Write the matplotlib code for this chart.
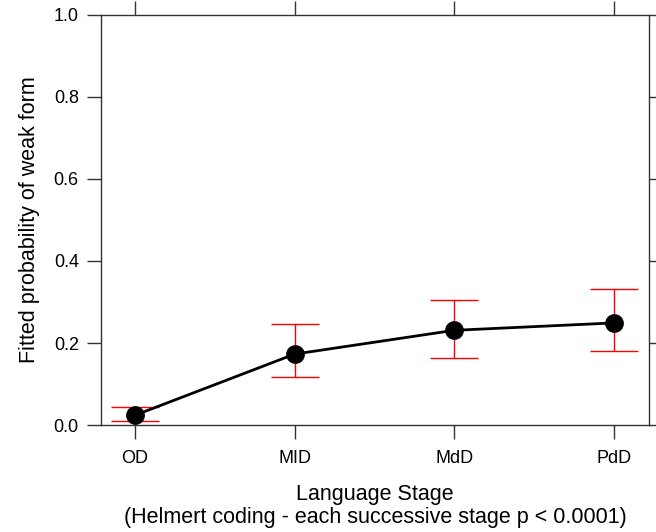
import numpy as np
import matplotlib
matplotlib.use("Agg")
from matplotlib import pyplot as plt

plt.rcParams['font.family'] = ['Liberation Sans', 'DejaVu Sans']

# fitted probabilities per language stage, with confidence limits
stages = ["OD", "MID", "MdD", "PdD"]
fitted = [0.024, 0.173, 0.231, 0.249]
upper = [0.044, 0.246, 0.305, 0.331]
lower = [0.010, 0.117, 0.164, 0.181]

fig = plt.figure(figsize=(6.56, 5.32), dpi=100)
ax = fig.add_axes([0.154, 0.201, 0.835, 0.771])

x = np.arange(1, len(stages) + 1)
fit = np.array(fitted)
yerr = [fit - np.array(lower), np.array(upper) - fit]

ax.errorbar(x, fit, yerr=yerr, fmt='none', ecolor='#ff0000', elinewidth=1,
            capsize=17, capthick=1, zorder=2)
ax.plot(x, fit, color='black', linewidth=2, marker='o', markersize=12.5, zorder=3)

ax.set_xlim(0.787, 4.22)
ax.set_ylim(0, 1)
ax.set_xticks(x)
ax.set_xticklabels(stages)
ax.set_yticks([0.0, 0.2, 0.4, 0.6, 0.8, 1.0])
ax.set_yticklabels(["0.0", "0.2", "0.4", "0.6", "0.8", "1.0"])

for s in ax.spines.values():
    s.set_color('#333333')
    s.set_linewidth(1)
ax.tick_params(axis='both', direction='out', length=10, width=1, color='#333333',
               labelsize=13, top=True, right=True, labeltop=False, labelright=False,
               pad=8)
ax.tick_params(axis='y', pad=6)

ax.set_ylabel("Fitted probability of weak form", fontsize=15.5, labelpad=10)
ax.set_xlabel("Language Stage\n(Helmert coding - each successive stage p < 0.0001)",
              fontsize=15.5, labelpad=12, linespacing=1.12)

fig.savefig("out.png", dpi=100)
